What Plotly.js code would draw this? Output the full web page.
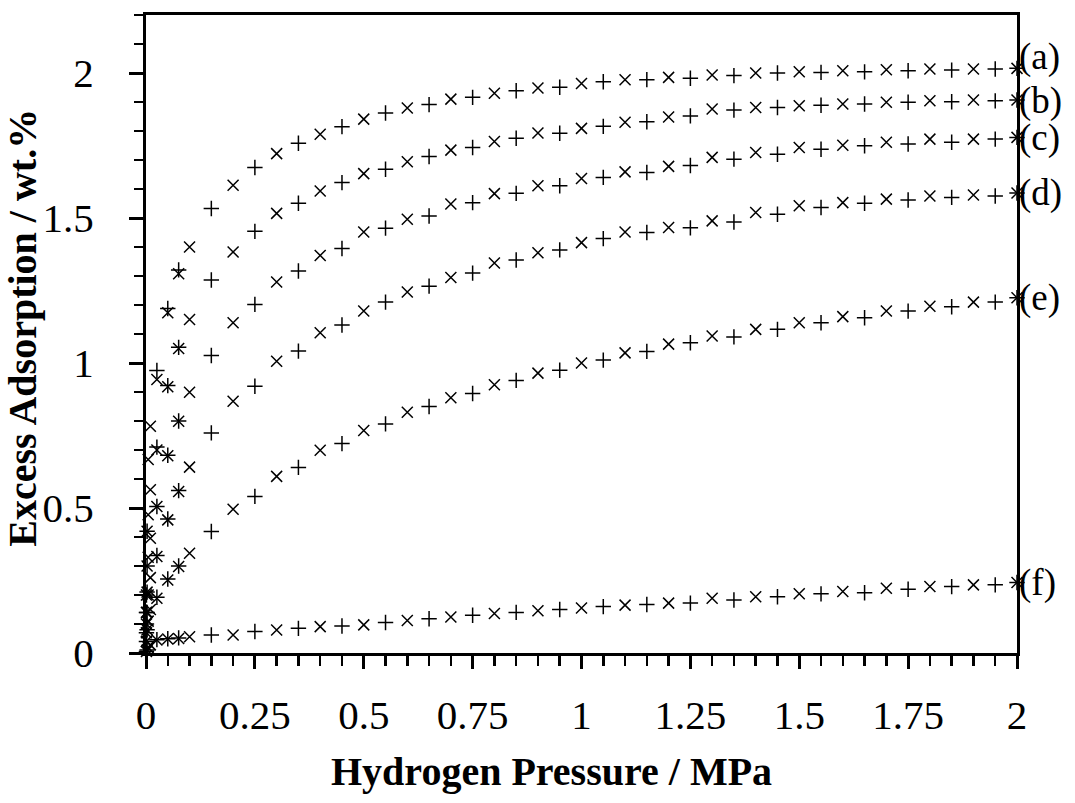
<!DOCTYPE html>
<html>
<head>
<meta charset="utf-8">
<script src="https://cdn.plot.ly/plotly-3.0.1.min.js"></script>
<style>html,body{margin:0;padding:0;background:#fff;}#chart{width:1075px;height:803px;}</style>
</head>
<body>
<div id="chart"></div>
<script>
// Pressures (MPa) of the "x" marker series and the "+" marker series
const pressX = [0.001, 0.0025, 0.005, 0.01, 0.025, 0.05, 0.075, 0.1, 0.2, 0.3, 0.4, 0.5, 0.6, 0.7, 0.8, 0.9, 1.0, 1.1, 1.2, 1.3, 1.4, 1.5, 1.6, 1.7, 1.8, 1.9, 2.0];
const pressPlus = [0.001, 0.0025, 0.025, 0.05, 0.075, 0.15, 0.25, 0.35, 0.45, 0.55, 0.65, 0.75, 0.85, 0.95, 1.05, 1.15, 1.25, 1.35, 1.45, 1.55, 1.65, 1.75, 1.85, 1.95, 2.0];

const curveLabels = ["(a)", "(b)", "(c)", "(d)", "(e)", "(f)"];

// Excess adsorption (wt.%) – "x" series
const aX = [0.2, 0.42, 0.667, 0.782, 0.943, 1.173, 1.308, 1.40, 1.613, 1.722, 1.789, 1.841, 1.879, 1.910, 1.930, 1.948, 1.964, 1.977, 1.985, 1.993, 2.000, 2.004, 2.008, 2.011, 2.014, 2.014, 2.016];
const bX = [0.14, 0.30, 0.477, 0.563, 0.700, 0.918, 1.050, 1.150, 1.383, 1.516, 1.593, 1.653, 1.694, 1.734, 1.764, 1.793, 1.809, 1.830, 1.848, 1.876, 1.881, 1.887, 1.893, 1.899, 1.904, 1.907, 1.907];
const cX = [0.10, 0.21, 0.33, 0.396, 0.505, 0.680, 0.799, 0.899, 1.139, 1.279, 1.371, 1.452, 1.496, 1.548, 1.584, 1.611, 1.636, 1.659, 1.678, 1.709, 1.726, 1.743, 1.751, 1.761, 1.772, 1.772, 1.778];
const dX = [0.07, 0.14, 0.20, 0.26, 0.333, 0.459, 0.557, 0.641, 0.868, 1.006, 1.104, 1.179, 1.245, 1.295, 1.345, 1.380, 1.415, 1.452, 1.467, 1.490, 1.519, 1.542, 1.553, 1.565, 1.576, 1.579, 1.586];
const eX = [0.04, 0.08, 0.11, 0.15, 0.189, 0.252, 0.298, 0.344, 0.496, 0.609, 0.699, 0.767, 0.830, 0.880, 0.925, 0.965, 1.000, 1.035, 1.065, 1.093, 1.116, 1.139, 1.160, 1.179, 1.196, 1.210, 1.225];
const fX = [0.005, 0.010, 0.018, 0.028, 0.045, 0.048, 0.050, 0.056, 0.062, 0.079, 0.091, 0.097, 0.112, 0.124, 0.136, 0.146, 0.155, 0.165, 0.172, 0.189, 0.194, 0.204, 0.212, 0.223, 0.229, 0.235, 0.243];

// Excess adsorption (wt.%) – "+" series
const aPlus = [0.2, 0.42, 0.974, 1.188, 1.321, 1.533, 1.674, 1.758, 1.815, 1.862, 1.891, 1.916, 1.939, 1.951, 1.970, 1.977, 1.982, 1.991, 2.000, 2.002, 2.004, 2.008, 2.010, 2.014, 2.016];
const bPlus = [0.14, 0.30, 0.710, 0.922, 1.054, 1.286, 1.454, 1.551, 1.622, 1.668, 1.712, 1.743, 1.775, 1.792, 1.816, 1.832, 1.852, 1.872, 1.881, 1.889, 1.893, 1.899, 1.901, 1.904, 1.907];
const cPlus = [0.10, 0.21, 0.505, 0.682, 0.800, 1.026, 1.202, 1.317, 1.395, 1.465, 1.507, 1.553, 1.585, 1.611, 1.640, 1.657, 1.681, 1.703, 1.720, 1.737, 1.749, 1.755, 1.761, 1.772, 1.778];
const dPlus = [0.07, 0.14, 0.336, 0.462, 0.560, 0.759, 0.920, 1.041, 1.131, 1.210, 1.265, 1.310, 1.355, 1.390, 1.429, 1.450, 1.466, 1.486, 1.513, 1.536, 1.551, 1.562, 1.571, 1.576, 1.586];
const ePlus = [0.04, 0.08, 0.192, 0.255, 0.300, 0.419, 0.540, 0.640, 0.722, 0.790, 0.850, 0.895, 0.940, 0.975, 1.010, 1.040, 1.070, 1.090, 1.116, 1.139, 1.156, 1.179, 1.194, 1.210, 1.225];
const fPlus = [0.005, 0.010, 0.046, 0.049, 0.052, 0.062, 0.074, 0.085, 0.093, 0.105, 0.118, 0.130, 0.140, 0.150, 0.160, 0.167, 0.172, 0.183, 0.194, 0.204, 0.208, 0.220, 0.229, 0.235, 0.243];

const xTickVals = [0, 0.25, 0.5, 0.75, 1, 1.25, 1.5, 1.75, 2];
const xTickText = ["0", "0.25", "0.5", "0.75", "1", "1.25", "1.5", "1.75", "2"];
const yTickVals = [0, 0.5, 1, 1.5, 2];
const yTickText = ["0", "0.5", "1", "1.5", "2"];

const seriesX = [aX, bX, cX, dX, eX, fX];
const seriesPlus = [aPlus, bPlus, cPlus, dPlus, ePlus, fPlus];

const serif = "Liberation Serif, Times New Roman, serif";
const traces = [];
seriesX.forEach((ys, i) => {
  traces.push({
    x: pressX, y: ys, type: "scatter", mode: "markers", cliponaxis: false,
    name: curveLabels[i] + " x", showlegend: false, hoverinfo: "x+y",
    marker: {symbol: "x-thin-open", size: 11, color: "#000", line: {color: "#000", width: 1.5}}
  });
  traces.push({
    x: pressPlus, y: seriesPlus[i], type: "scatter", mode: "markers", cliponaxis: false,
    name: curveLabels[i] + " +", showlegend: false, hoverinfo: "x+y",
    marker: {symbol: "cross-thin-open", size: 11, color: "#000", line: {color: "#000", width: 1.5}}
  });
});

const labelShift = [11, -1, -1, 0, 0, 0];
const annotations = curveLabels.map((lab, i) => ({
  x: pressX[pressX.length - 1], y: seriesX[i][seriesX[i].length - 1],
  xref: "x", yref: "y", text: lab, showarrow: false,
  xanchor: "left", yanchor: "middle", xshift: 1, yshift: labelShift[i],
  borderpad: 0,
  font: {family: serif, size: 37, color: "#000"}
}));
annotations.push({
  x: 0.465, y: -0.1865, xref: "paper", yref: "paper", showarrow: false,
  text: "<b>Hydrogen Pressure / MPa</b>", xanchor: "center", yanchor: "middle",
  font: {family: serif, size: 40, color: "#000"}
});
annotations.push({
  x: -0.1412, y: 0.51, xref: "paper", yref: "paper", showarrow: false, textangle: -90,
  text: "<b>Excess Adsorption / wt.%</b>", xanchor: "center", yanchor: "middle",
  font: {family: serif, size: 40, color: "#000"}
});

const layout = {
  width: 1075, height: 803,
  margin: {l: 146, r: 58, t: 15, b: 150},
  paper_bgcolor: "#fff", plot_bgcolor: "#fff",
  showlegend: false,
  font: {family: serif, color: "#000"},
  xaxis: {
    range: [0, 2], showgrid: false, zeroline: false,
    showline: true, linewidth: 3, linecolor: "#000", mirror: true,
    tickmode: "array", tickvals: xTickVals, ticktext: xTickText,
    ticks: "outside", ticklen: 13, tickwidth: 3, tickcolor: "#000",
    ticklabelstandoff: 11,
    minor: {dtick: 0.05, tick0: 0, ticks: "outside", ticklen: 10, tickwidth: 2.5, tickcolor: "#000", showgrid: false},
    tickfont: {family: serif, size: 41, color: "#000"}
  },
  yaxis: {
    range: [0, 2.2], showgrid: false, zeroline: false,
    showline: true, linewidth: 3, linecolor: "#000", mirror: true,
    tickmode: "array", tickvals: yTickVals, ticktext: yTickText,
    ticks: "outside", ticklen: 14, tickwidth: 3, tickcolor: "#000",
    ticklabelstandoff: 27,
    minor: {dtick: 0.1, tick0: 0, ticks: "outside", ticklen: 9, tickwidth: 2.5, tickcolor: "#000", showgrid: false},
    tickfont: {family: serif, size: 41, color: "#000"}
  },
  annotations: annotations
};

Plotly.newPlot("chart", traces, layout, {displayModeBar: false, staticPlot: true});
</script>
</body>
</html>
